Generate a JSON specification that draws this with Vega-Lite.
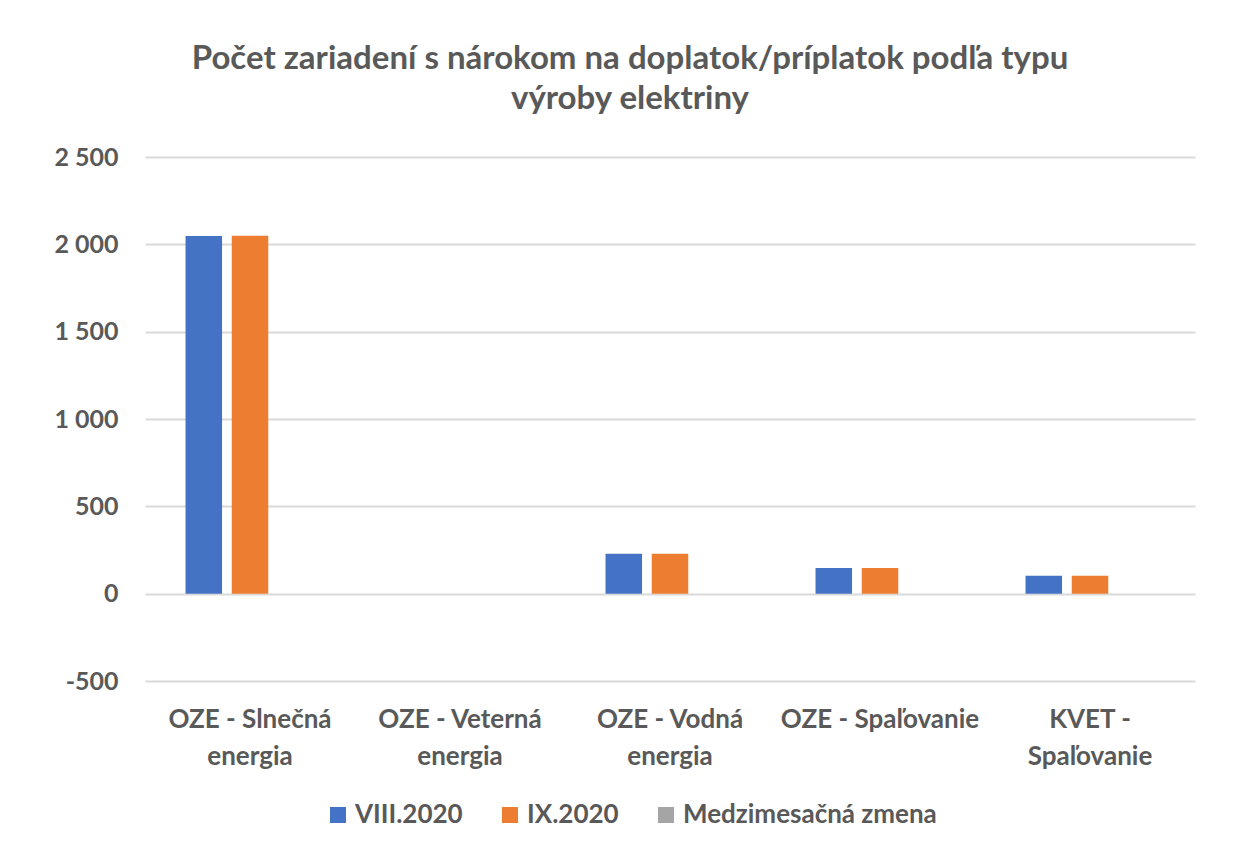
{
  "$schema": "https://vega.github.io/schema/vega-lite/v6.json",
  "width": 1050,
  "height": 524,
  "autosize": {"type": "none"},
  "padding": {"left": 145, "top": 157, "right": 46, "bottom": 176},
  "background": "white",
  "title": {
    "text": ["Počet zariadení s nárokom na doplatok/príplatok podľa typu", "výroby elektriny"],
    "anchor": "middle",
    "dx": -40,
    "offset": 29,
    "font": "Lato",
    "fontSize": 33,
    "fontWeight": "bold",
    "color": "#595959",
    "lineHeight": 40
  },
  "data": {
    "values": [
      {"typ": "OZE - Slnečná energia", "obdobie": "VIII.2020", "pocet": 2048},
      {"typ": "OZE - Slnečná energia", "obdobie": "IX.2020", "pocet": 2049},
      {"typ": "OZE - Slnečná energia", "obdobie": "Medzimesačná zmena", "pocet": 0},
      {"typ": "OZE - Veterná energia", "obdobie": "VIII.2020", "pocet": 0},
      {"typ": "OZE - Veterná energia", "obdobie": "IX.2020", "pocet": 0},
      {"typ": "OZE - Veterná energia", "obdobie": "Medzimesačná zmena", "pocet": 0},
      {"typ": "OZE - Vodná energia", "obdobie": "VIII.2020", "pocet": 228},
      {"typ": "OZE - Vodná energia", "obdobie": "IX.2020", "pocet": 228},
      {"typ": "OZE - Vodná energia", "obdobie": "Medzimesačná zmena", "pocet": 0},
      {"typ": "OZE - Spaľovanie", "obdobie": "VIII.2020", "pocet": 147},
      {"typ": "OZE - Spaľovanie", "obdobie": "IX.2020", "pocet": 147},
      {"typ": "OZE - Spaľovanie", "obdobie": "Medzimesačná zmena", "pocet": 0},
      {"typ": "KVET - Spaľovanie", "obdobie": "VIII.2020", "pocet": 103},
      {"typ": "KVET - Spaľovanie", "obdobie": "IX.2020", "pocet": 103},
      {"typ": "KVET - Spaľovanie", "obdobie": "Medzimesačná zmena", "pocet": 0}
    ]
  },
  "mark": {"type": "bar", "stroke": null},
  "encoding": {
    "x": {
      "field": "typ",
      "type": "nominal",
      "sort": null,
      "title": null,
      "scale": {"paddingInner": 0.386, "paddingOuter": 0.193},
      "axis": {
        "labelAngle": 0,
        "domain": false,
        "ticks": false,
        "labelPadding": 25,
        "labelFont": "Lato",
        "labelFontSize": 26,
        "labelFontWeight": "bold",
        "labelColor": "#595959",
        "labelLineHeight": 37,
        "labelBaseline": "top",
        "labelLimit": 300,
        "labelExpr": "datum.label == 'OZE - Slnečná energia' ? ['OZE - Slnečná', 'energia'] : datum.label == 'OZE - Veterná energia' ? ['OZE - Veterná', 'energia'] : datum.label == 'OZE - Vodná energia' ? ['OZE - Vodná', 'energia'] : datum.label == 'KVET - Spaľovanie' ? ['KVET -', 'Spaľovanie'] : datum.label"
      }
    },
    "xOffset": {
      "field": "obdobie",
      "type": "nominal",
      "sort": ["VIII.2020", "IX.2020", "Medzimesačná zmena"],
      "scale": {"paddingInner": 0.21, "paddingOuter": 0}
    },
    "y": {
      "field": "pocet",
      "type": "quantitative",
      "title": null,
      "scale": {"domain": [-500, 2500], "nice": false, "zero": false},
      "axis": {
        "values": [-500, 0, 500, 1000, 1500, 2000, 2500],
        "domain": false,
        "ticks": false,
        "grid": true,
        "gridColor": "#D9D9D9",
        "gridWidth": 2,
        "labelPadding": 27,
        "labelFont": "Lato",
        "labelFontSize": 25,
        "labelFontWeight": "bold",
        "labelColor": "#595959",
        "labelExpr": "replace(replace(format(datum.value, ','), ',', ' '), '−', '-')"
      }
    },
    "color": {
      "field": "obdobie",
      "type": "nominal",
      "sort": ["VIII.2020", "IX.2020", "Medzimesačná zmena"],
      "scale": {"domain": ["VIII.2020", "IX.2020", "Medzimesačná zmena"], "range": ["#4472C4", "#ED7D31", "#A5A5A5"]},
      "legend": {
        "title": null,
        "orient": "none",
        "direction": "horizontal",
        "legendX": 180,
        "legendY": 645,
        "padding": 0,
        "symbolType": "square",
        "symbolSize": 256,
        "symbolStrokeWidth": 0,
        "symbolOpacity": 1,
        "labelFont": "Lato",
        "labelFontSize": 26,
        "labelFontWeight": "bold",
        "labelColor": "#595959",
        "labelOffset": 4,
        "columnPadding": 34,
        "labelLimit": 400
      }
    }
  },
  "config": {
    "view": {"stroke": null}
  }
}
